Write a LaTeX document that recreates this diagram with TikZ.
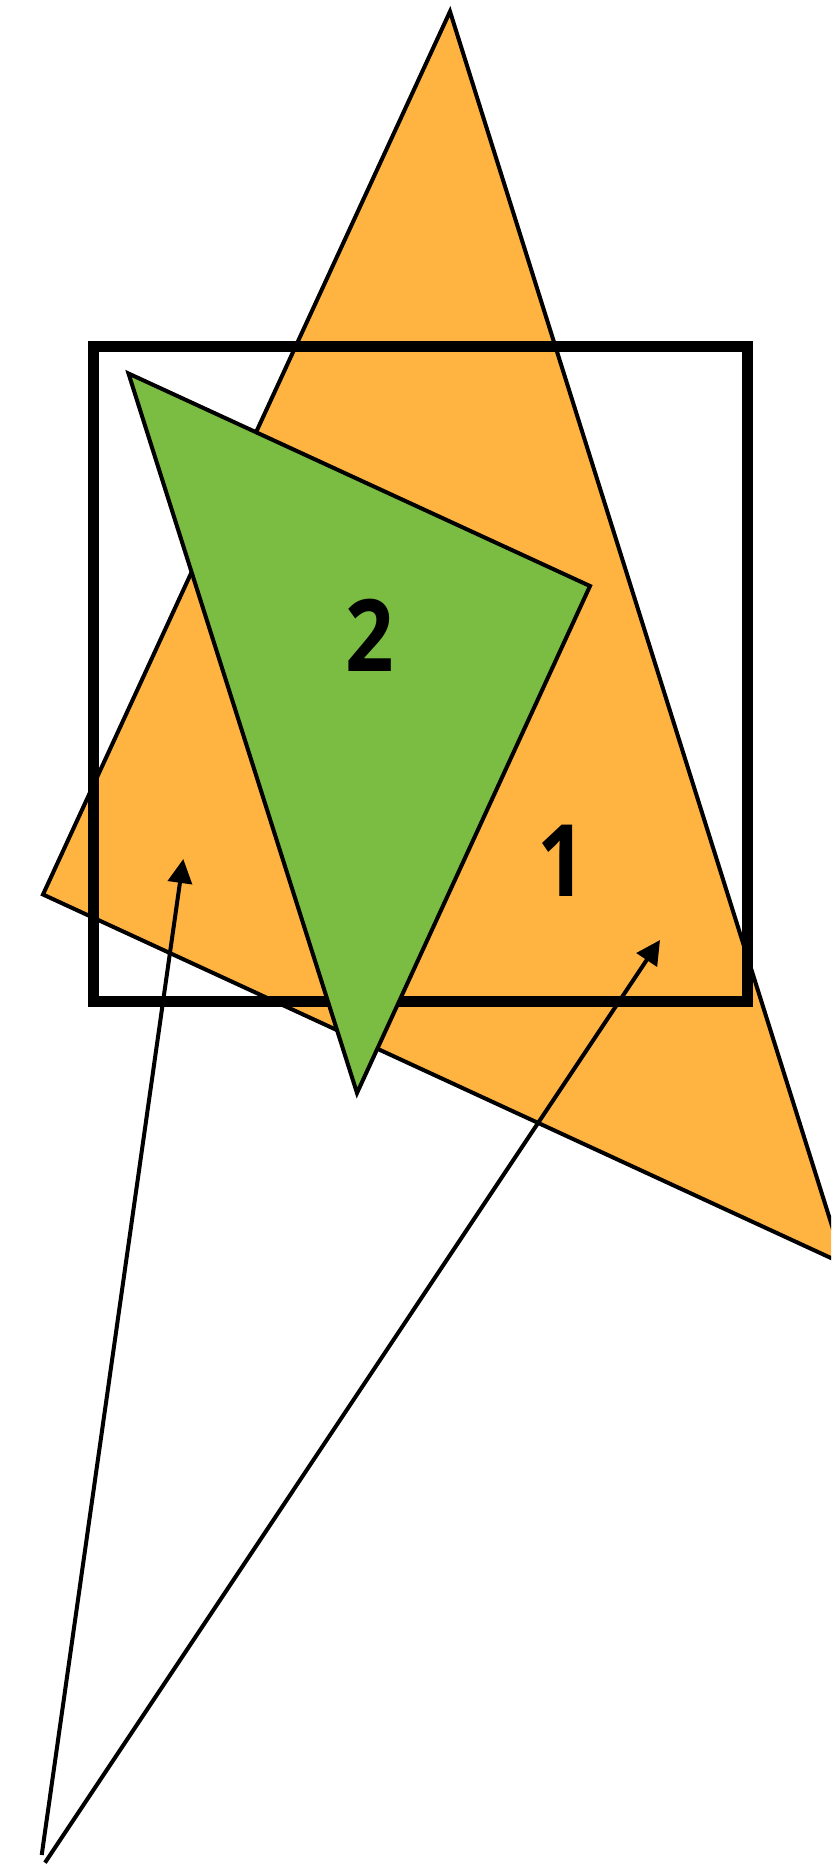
\documentclass[tikz,border=0pt]{standalone}
\usepackage{fontspec}
\newfontfamily\labelfont{Open Sans}[UprightFont=* Bold]
\usetikzlibrary{arrows.meta}
\definecolor{orangefill}{RGB}{255,180,66}
\definecolor{greenfill}{RGB}{123,189,66}
\tikzset{
  thinline/.style={draw=black, line width=4pt, line join=miter},
  boxline/.style={draw=black, line width=11pt, line join=miter},
  numlabel/.style={inner sep=0pt, font=\labelfont\fontsize{100}{100}\selectfont},
  axisarrow/.style={draw=black, line width=4pt, -{Triangle[length=24pt,width=24pt]}}
}
\begin{document}
\begin{tikzpicture}[x=1pt,y=-1pt]
\useasboundingbox (0,0) rectangle (831,1867);
\clip (0,0) rectangle (831,1867);
\fill[white] (0,0) rectangle (831,1867);
% orange triangle
\coordinate (oA) at (450,11.5);
\coordinate (oB) at (43,894.5);
\coordinate (oC) at (844,1264);
\filldraw[thinline, fill=orangefill] (oA) -- (oB) -- (oC) -- cycle;
% square
\coordinate (sA) at (93.3,346.8);
\coordinate (sB) at (747.8,1001.3);
\draw[boxline] (sA) rectangle (sB);
% green triangle
\coordinate (gA) at (128.5,373.5);
\coordinate (gB) at (590,586);
\coordinate (gC) at (357,1093);
\filldraw[thinline, fill=greenfill] (gA) -- (gB) -- (gC) -- cycle;
% labels
\node[numlabel] (l2) at (370,635) {\scalebox{0.85}[1]{2}};
\node[numlabel] (l1) at (562,861) {\scalebox{0.85}[1]{1}};
% arrows
\coordinate (t1) at (41.7,1855);
\coordinate (h1) at (183.3,859);
\coordinate (t2) at (45,1862.7);
\coordinate (h2) at (660,940);
\draw[axisarrow] (t1) -- (h1);
\draw[axisarrow] (t2) -- (h2);
\end{tikzpicture}
\end{document}
